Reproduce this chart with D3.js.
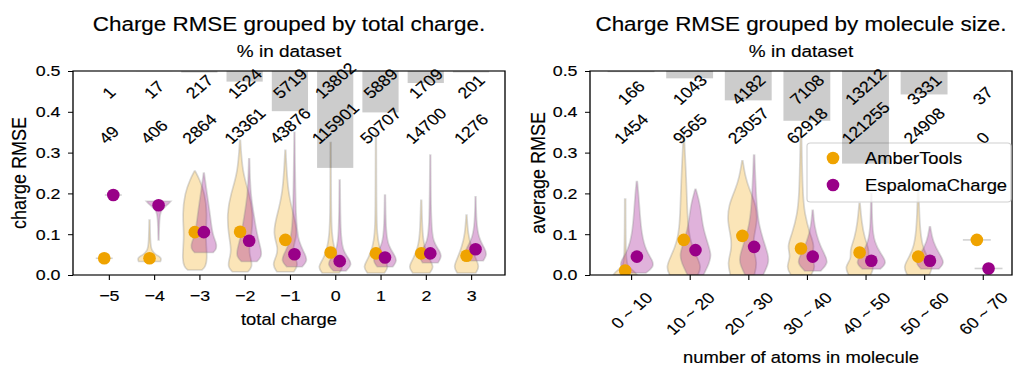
<!DOCTYPE html>
<html>
<head>
<meta charset="utf-8">
<script src="https://cdn.jsdelivr.net/npm/d3@7"></script>
<style>
  body { margin: 0; background: #fff; }
  svg { display: block; }
  text { font-family: "Liberation Sans", Arial, Helvetica, sans-serif; fill: #000; stroke: #000; stroke-width: 0.15px; }
</style>
</head>
<body>
<svg id="chart"></svg>
<script>
// ---- data ----
const chargeCats = ["\u22125", "\u22124", "\u22123", "\u22122", "\u22121", "0", "1", "2", "3"];
const chargeMolCounts = [1, 17, 217, 1524, 5719, 13802, 5889, 1709, 201];
const chargeConfCounts = [49, 406, 2864, 13361, 43876, 115901, 50707, 14700, 1276];
const chargePct = [0.003, 0.06, 0.75, 5.2, 19.7, 47.5, 20.3, 5.9, 0.7];
const chargeAmberMean = [0.041, 0.041, 0.105, 0.106, 0.086, 0.055, 0.053, 0.053, 0.047];
const chargeEspMean = [0.196, 0.171, 0.105, 0.084, 0.051, 0.034, 0.043, 0.053, 0.063];

const sizeCats = ["0 ~ 10", "10 ~ 20", "20 ~ 30", "30 ~ 40", "40 ~ 50", "50 ~ 60", "60 ~ 70"];
const sizeMolCounts = [166, 1043, 4182, 7108, 13212, 3331, 37];
const sizeConfCounts = [1454, 9565, 23057, 62918, 121255, 24908, 0];
const sizePct = [0.57, 3.6, 14.4, 24.4, 45.4, 11.5, 0.13];
const sizeAmberMean = [0.011, 0.086, 0.096, 0.065, 0.055, 0.045, 0.086];
const sizeEspMean = [0.045, 0.061, 0.069, 0.045, 0.035, 0.035, 0.016];

// violin outlines: [rmse, relative density]
const chargeAmberViolin = [
  [[0.041, 0.55]],
  [[0.033, 0.7], [0.042, 0.8], [0.05, 0.4], [0.06, 0.12], [0.08, 0.05], [0.135, 0.02]],
  [[0.012, 0.45], [0.02, 0.7], [0.04, 0.8], [0.07, 0.75], [0.1, 0.7], [0.15, 0.8], [0.2, 0.65], [0.235, 0.3], [0.255, 0.02]],
  [[0.008, 0.5], [0.02, 0.8], [0.04, 0.7], [0.06, 0.55], [0.1, 0.75], [0.15, 0.85], [0.2, 0.6], [0.25, 0.15], [0.33, 0.02]],
  [[0.008, 0.55], [0.025, 0.85], [0.045, 0.6], [0.065, 0.45], [0.1, 0.8], [0.14, 0.6], [0.2, 0.15], [0.306, 0.02]],
  [[0.005, 0.55], [0.02, 0.85], [0.04, 0.45], [0.07, 0.2], [0.1, 0.08], [0.15, 0.03], [0.325, 0.02]],
  [[0.005, 0.55], [0.02, 0.85], [0.04, 0.5], [0.07, 0.2], [0.1, 0.08], [0.15, 0.03], [0.35, 0.02]],
  [[0.005, 0.55], [0.02, 0.85], [0.04, 0.5], [0.07, 0.2], [0.1, 0.08], [0.183, 0.02]],
  [[0.005, 0.6], [0.02, 0.85], [0.04, 0.6], [0.07, 0.3], [0.1, 0.1], [0.147, 0.02]]
];
const chargeEspViolin = [
  [[0.196, 0.55]],
  [[0.086, 0.02], [0.14, 0.05], [0.16, 0.15], [0.172, 0.6], [0.181, 0.8]],
  [[0.055, 0.6], [0.065, 0.85], [0.08, 0.8], [0.1, 0.55], [0.15, 0.4], [0.2, 0.2], [0.25, 0.02]],
  [[0.033, 0.5], [0.045, 0.8], [0.06, 0.8], [0.1, 0.5], [0.15, 0.3], [0.2, 0.08], [0.285, 0.02]],
  [[0.02, 0.5], [0.035, 0.85], [0.05, 0.7], [0.08, 0.3], [0.12, 0.08], [0.35, 0.02]],
  [[0.01, 0.4], [0.025, 0.8], [0.04, 0.6], [0.06, 0.2], [0.1, 0.05], [0.233, 0.02]],
  [[0.02, 0.5], [0.035, 0.8], [0.05, 0.6], [0.07, 0.25], [0.1, 0.06], [0.196, 0.02]],
  [[0.03, 0.5], [0.045, 0.75], [0.06, 0.6], [0.08, 0.2], [0.12, 0.05], [0.294, 0.02]],
  [[0.035, 0.5], [0.05, 0.75], [0.065, 0.6], [0.09, 0.2], [0.13, 0.05], [0.192, 0.02]]
];
const sizeAmberViolin = [
  [[0.0, 0.6], [0.01, 0.45], [0.02, 0.12], [0.04, 0.03], [0.186, 0.02]],
  [[0.0, 0.7], [0.02, 0.9], [0.05, 0.6], [0.08, 0.35], [0.12, 0.2], [0.2, 0.15], [0.26, 0.1], [0.34, 0.02]],
  [[0.0, 0.6], [0.03, 0.75], [0.06, 0.55], [0.09, 0.55], [0.13, 0.75], [0.17, 0.7], [0.21, 0.35], [0.24, 0.15], [0.28, 0.02]],
  [[0.0, 0.5], [0.02, 0.75], [0.045, 0.5], [0.07, 0.7], [0.1, 0.45], [0.15, 0.18], [0.2, 0.08], [0.355, 0.02]],
  [[0.0, 0.55], [0.02, 0.75], [0.04, 0.4], [0.06, 0.5], [0.09, 0.25], [0.13, 0.1], [0.176, 0.02]],
  [[0.0, 0.55], [0.02, 0.75], [0.04, 0.5], [0.07, 0.2], [0.12, 0.07], [0.216, 0.02]],
  [[0.086, 0.7]]
];
const sizeEspViolin = [
  [[0.005, 0.45], [0.02, 0.85], [0.035, 0.8], [0.06, 0.45], [0.1, 0.24], [0.15, 0.15], [0.2, 0.08], [0.229, 0.02]],
  [[0.0, 0.4], [0.03, 0.7], [0.05, 0.8], [0.08, 0.6], [0.12, 0.35], [0.17, 0.25], [0.21, 0.02]],
  [[0.0, 0.45], [0.03, 0.75], [0.05, 0.7], [0.08, 0.5], [0.12, 0.25], [0.17, 0.12], [0.294, 0.02]],
  [[0.01, 0.4], [0.03, 0.8], [0.05, 0.6], [0.08, 0.3], [0.12, 0.08], [0.159, 0.02]],
  [[0.015, 0.45], [0.03, 0.8], [0.05, 0.5], [0.08, 0.15], [0.12, 0.04], [0.2, 0.02]],
  [[0.015, 0.45], [0.03, 0.75], [0.05, 0.5], [0.08, 0.15], [0.118, 0.02]],
  [[0.016, 0.7]]
];

const seriesNames = ["AmberTools", "EspalomaCharge"];
const yTicks = [0, 0.1, 0.2, 0.3, 0.4, 0.5];

// ---- layout ----
const S = 1.15;               // the figure looks stretched horizontally; draw narrow and stretch
const W = 1013 / S, H = 367;
const sx = v => v / S;
const yTop = 71, yBot = 275;
const amberCol = "#efa300", espCol = "#990088";
const dotR = 6.3;

const svg = d3.select("#chart")
  .attr("width", 1013).attr("height", H)
  .attr("viewBox", `0 0 ${W} ${H}`)
  .attr("preserveAspectRatio", "none");

const y = d3.scaleLinear().domain([0, 0.5]).range([yBot, yTop]);
const pctY = d3.scaleLinear().domain([0, 100]).range([yTop, yBot]);

const panels = [
  { id: "charge", cats: chargeCats, pct: chargePct, molN: chargeMolCounts, confN: chargeConfCounts,
    means: [chargeAmberMean, chargeEspMean], violins: [chargeAmberViolin, chargeEspViolin],
    x0: 73, x1: 505, dom: [-0.79, 8.75],
    title: "Charge RMSE grouped by total charge.", xlabel: "total charge", ylabel: "charge RMSE",
    ylabX: 19, xlabY: 325, rotate: false, legend: false, rowB: [0.43, 0.319] },
  { id: "size", cats: sizeCats, pct: sizePct, molN: sizeMolCounts, confN: sizeConfCounts,
    means: [sizeAmberMean, sizeEspMean], violins: [sizeAmberViolin, sizeEspViolin],
    x0: 590, x1: 1012, dom: [-0.7, 6.5],
    title: "Charge RMSE grouped by molecule size.", xlabel: "number of atoms in molecule", ylabel: "average RMSE",
    ylabX: 538, xlabY: 363, rotate: true, legend: true, rowB: [0.415, 0.319] }
];

panels.forEach(p => {
  const x = d3.scaleLinear().domain(p.dom).range([sx(p.x0), sx(p.x1)]);
  const g = svg.append("g");
  const unit = x(1) - x(0);
  const maxHalf = 0.34 * unit;
  const dodge = 0.1;
  const cols = [amberCol, espCol];

  g.append("clipPath").attr("id", "clip-" + p.id)
    .append("rect").attr("x", x.range()[0]).attr("y", yTop)
    .attr("width", x.range()[1] - x.range()[0]).attr("height", yBot - yTop);

  const plot = g.append("g").attr("clip-path", `url(#clip-${p.id})`);

  // violins
  p.violins.forEach((set, s) => {
    set.forEach((prof, i) => {
      const cx = x(i + (s === 0 ? -dodge : dodge));
      if (prof.length === 1) {
        plot.append("line")
          .attr("x1", cx - prof[0][1] * maxHalf).attr("x2", cx + prof[0][1] * maxHalf)
          .attr("y1", y(prof[0][0])).attr("y2", y(prof[0][0]))
          .attr("stroke", "#999").attr("stroke-opacity", 0.45).attr("stroke-width", 1.6);
        return;
      }
      const area = d3.area()
        .curve(d3.curveBasis)
        .y(d => y(d[0]))
        .x0(d => cx - d[1] * maxHalf)
        .x1(d => cx + d[1] * maxHalf);
      plot.append("path")
        .attr("d", area(prof))
        .attr("fill", cols[s]).attr("fill-opacity", s === 0 ? 0.28 : 0.3)
        .attr("stroke", "#8a8a8a").attr("stroke-opacity", 0.32).attr("stroke-width", 1.5);
    });
  });

  // mean markers (ellipses so they stay round after the horizontal stretch)
  p.means.forEach((arr, s) => {
    plot.selectAll(null).data(arr).enter().append("ellipse")
      .attr("cx", (d, i) => x(i + (s === 0 ? -dodge : dodge)))
      .attr("cy", d => y(d))
      .attr("rx", sx(dotR)).attr("ry", dotR)
      .attr("fill", cols[s]);
  });

  // spines
  g.append("rect")
    .attr("x", x.range()[0]).attr("y", yTop)
    .attr("width", x.range()[1] - x.range()[0]).attr("height", yBot - yTop)
    .attr("fill", "none").attr("stroke", "#000").attr("stroke-width", 1.15);

  // y axis
  const ya = g.append("g").attr("transform", `translate(${x.range()[0]},0)`)
    .call(d3.axisLeft(y).tickValues(yTicks).tickFormat(d3.format(".1f")).tickSize(sx(5)).tickPadding(6.5));
  ya.select(".domain").remove();
  ya.selectAll("line").attr("stroke", "#000");
  ya.selectAll("text").attr("font-size", 15.5).attr("font-family", null).attr("fill", "#000");

  // x axis
  const idx = p.cats.map((d, i) => i);
  const xa = g.append("g").attr("transform", `translate(0,${yBot})`)
    .call(d3.axisBottom(x).tickValues(idx).tickFormat(i => p.cats[i]).tickSize(5).tickPadding(10.5));
  xa.select(".domain").remove();
  xa.selectAll("line").attr("stroke", "#000").attr("stroke-width", sx(1.1));
  xa.selectAll("text").attr("font-size", 15.5).attr("font-family", null).attr("fill", "#000");
  if (p.rotate) {
    xa.selectAll(".tick text").each(function () {
      const t = d3.select(this);
      const L = this.getComputedTextLength();
      const half = (L + 0.72 * 15.5) * Math.SQRT1_2 / 2;
      t.attr("y", null).attr("dy", "0.36em")
        .attr("transform", `translate(0,${291 - yBot + half}) rotate(-45)`);
    });
  }

  // legend (under twin axis)
  if (p.legend) {
    const lg = g.append("g");
    lg.append("rect")
      .attr("x", sx(807)).attr("y", 143).attr("width", sx(1011) - sx(807)).attr("height", 59)
      .attr("rx", 3).attr("fill", "#fff").attr("fill-opacity", 0.8)
      .attr("stroke", "#d0d0d0").attr("stroke-width", 1);
    seriesNames.forEach((n, s) => {
      const yy = 158 + s * 27;
      lg.append("ellipse").attr("cx", sx(833)).attr("cy", yy)
        .attr("rx", sx(dotR)).attr("ry", dotR).attr("fill", cols[s]);
      lg.append("text").attr("x", sx(865)).attr("y", yy).attr("dy", "0.36em")
        .attr("font-size", 16).text(n);
    });
  }

  // twin axis: % in dataset bars hanging from the top
  g.selectAll(null).data(p.pct).enter().append("rect")
    .attr("x", (d, i) => x(i - 0.4))
    .attr("width", x(0.8) - x(0))
    .attr("y", yTop)
    .attr("height", d => pctY(d) - yTop)
    .attr("fill", "#000").attr("fill-opacity", 0.2);

  // counts, rotated, bottom-aligned
  [[p.molN, p.rowB[0]], [p.confN, p.rowB[1]]].forEach(([arr, yb]) => {
    g.selectAll(null).data(arr).enter().append("text")
      .attr("font-size", 15.5)
      .attr("text-anchor", "middle")
      .attr("dy", "0.36em")
      .text(d => d)
      .each(function (d, i) {
        const L = this.getComputedTextLength();
        const half = (L + 0.72 * 15.5) * Math.SQRT1_2 / 2;
        d3.select(this).attr("transform", `translate(${x(i)},${y(yb) - half}) rotate(-45)`);
      });
  });

  // titles and labels
  const cxm = (x.range()[0] + x.range()[1]) / 2;
  g.append("text").attr("x", cxm).attr("y", 31).attr("text-anchor", "middle")
    .attr("font-size", 19.5).text(p.title);
  g.append("text").attr("x", cxm).attr("y", 57).attr("text-anchor", "middle")
    .attr("font-size", 16.5).text("% in dataset");
  g.append("text").attr("x", cxm).attr("y", p.xlabY).attr("text-anchor", "middle")
    .attr("font-size", 16).text(p.xlabel);
  g.append("text")
    .attr("transform", `translate(${sx(p.ylabX)},${(yTop + yBot) / 2}) rotate(-90)`)
    .attr("text-anchor", "middle").attr("dy", "0.36em")
    .attr("font-size", 18).text(p.ylabel);
});
</script>
</body>
</html>
